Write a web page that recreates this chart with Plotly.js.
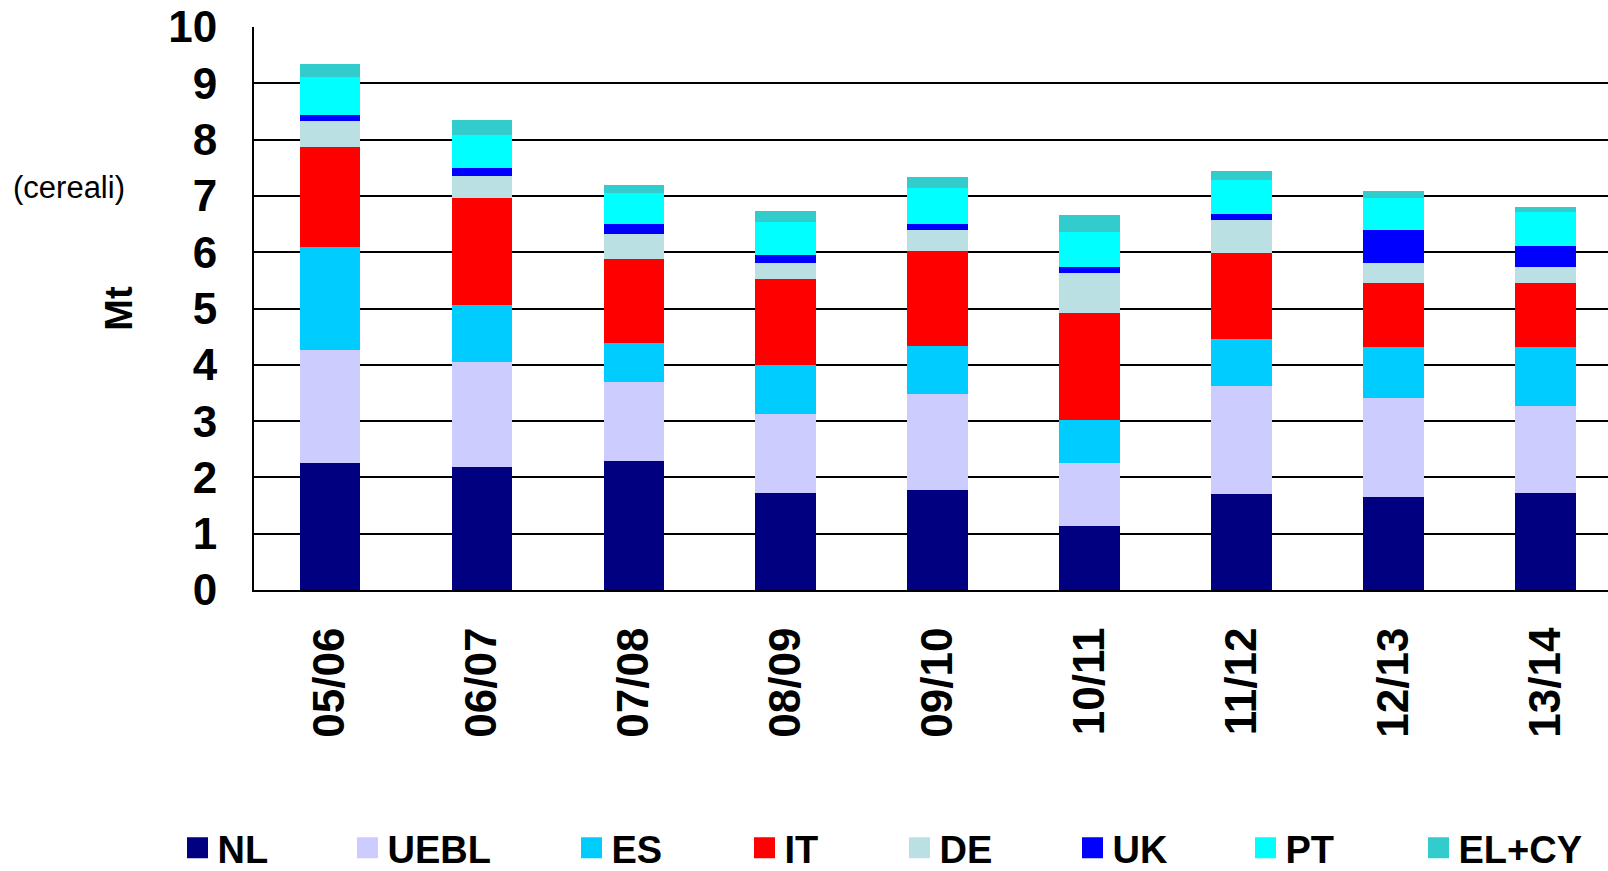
<!DOCTYPE html>
<html>
<head>
<meta charset="utf-8">
<script src="https://cdn.plot.ly/plotly-3.0.1.min.js"></script>
<style>
html, body { margin: 0; padding: 0; background: #fff; }
#chart { width: 1608px; height: 871px; }
</style>
</head>
<body>
<div id="chart"></div>
<script>
// ---- data (Mt) ----
const categories = ['05/06', '06/07', '07/08', '08/09', '09/10', '10/11', '11/12', '12/13', '13/14'];
const seriesNames = ['NL', 'UEBL', 'ES', 'IT', 'DE', 'UK', 'PT', 'EL+CY'];
const NL   = [2.26, 2.18, 2.29, 1.73, 1.77, 1.13, 1.70, 1.66, 1.73];
const UEBL = [2.00, 1.87, 1.40, 1.40, 1.71, 1.13, 1.93, 1.75, 1.54];
const ES   = [1.83, 1.01, 0.70, 0.86, 0.86, 0.76, 0.83, 0.91, 1.05];
const IT   = [1.77, 1.90, 1.49, 1.53, 1.68, 1.90, 1.52, 1.13, 1.13];
const DE   = [0.47, 0.39, 0.44, 0.29, 0.37, 0.71, 0.59, 0.36, 0.29];
const UK   = [0.10, 0.15, 0.18, 0.14, 0.11, 0.11, 0.10, 0.58, 0.37];
const PT   = [0.68, 0.58, 0.56, 0.58, 0.64, 0.62, 0.61, 0.57, 0.60];
const ELCY = [0.23, 0.26, 0.13, 0.20, 0.19, 0.30, 0.16, 0.12, 0.09];
const yTicks = [0, 1, 2, 3, 4, 5, 6, 7, 8, 9, 10];

// ---- styles ----
const seriesValues = [NL, UEBL, ES, IT, DE, UK, PT, ELCY];
const colors = ['#000080', '#CCCCFF', '#00CCFF', '#FF0000', '#BBE0E3', '#0000FF', '#00FFFF', '#33CCCC'];
const legendLeftPx = [185, 355, 579, 752, 907, 1080, 1253, 1426];
const FONT = 'Arial, "Liberation Sans", Helvetica, sans-serif';
const W = 1608, H = 871;

const traces = [];
seriesNames.forEach((name, i) => {
  traces.push({
    type: 'bar',
    name: name,
    x: categories,
    y: seriesValues[i],
    marker: { color: colors[i], line: { width: 0 } },
    width: 0.4,
    showlegend: false,
    legendgroup: name,
    hoverinfo: 'name+y'
  });
});
// legend-only entries with larger square symbols
seriesNames.forEach((name, i) => {
  traces.push({
    type: 'scatter',
    mode: 'markers',
    name: name,
    x: [categories[0]],
    y: [null],
    marker: { symbol: 'square', size: 16, color: colors[i], line: { color: colors[i], width: 5 } },
    legendgroup: name,
    showlegend: true,
    legend: i === 0 ? 'legend' : 'legend' + (i + 1),
    hoverinfo: 'skip'
  });
});

const layout = {
  width: W,
  height: H,
  margin: { l: 254, r: 0, t: 27, b: 281, pad: 0 },
  paper_bgcolor: '#ffffff',
  plot_bgcolor: '#ffffff',
  font: { family: FONT, color: '#000000' },
  barmode: 'stack',
  xaxis: {
    type: 'category',
    range: [-0.5, 8.41],
    tickangle: -90,
    tickfont: { family: FONT, size: 44, weight: 'bold', color: '#000' },
    ticks: '',
    ticklabelstandoff: 18,
    showline: true,
    linecolor: '#000',
    linewidth: 2,
    showgrid: false,
    zeroline: false,
    fixedrange: true
  },
  yaxis: {
    range: [0, 10.0],
    tickvals: yTicks,
    tickfont: { family: FONT, size: 44, weight: 'bold', color: '#000' },
    ticks: '',
    ticklabelstandoff: 26,
    showline: true,
    linecolor: '#000',
    linewidth: 2,
    showgrid: true,
    gridcolor: '#000',
    gridwidth: 2,
    zeroline: false,
    fixedrange: true,
    title: { text: 'Mt', font: { family: FONT, size: 38, weight: 'bold', color: '#000' }, standoff: 24 }
  },
  annotations: [{
    text: '(cereali)',
    xref: 'paper', yref: 'y',
    x: (11 - 254) / (W - 254), y: 7.15,
    xanchor: 'left', yanchor: 'middle',
    showarrow: false,
    font: { family: FONT, size: 31, color: '#000' }
  }]
};

legendLeftPx.forEach((px, i) => {
  const key = i === 0 ? 'legend' : 'legend' + (i + 1);
  layout[key] = {
    orientation: 'h',
    xref: 'container', yref: 'container',
    x: (px + 12.5 - 20) / W,
    y: 1 - 848 / H,
    xanchor: 'left', yanchor: 'middle',
    bgcolor: 'rgba(0,0,0,0)',
    borderwidth: 0,
    font: { family: FONT, size: 38, weight: 'bold', color: '#000' },
    itemclick: false, itemdoubleclick: false
  };
});

Plotly.newPlot('chart', traces, layout, { displayModeBar: false, staticPlot: true });
</script>
</body>
</html>
